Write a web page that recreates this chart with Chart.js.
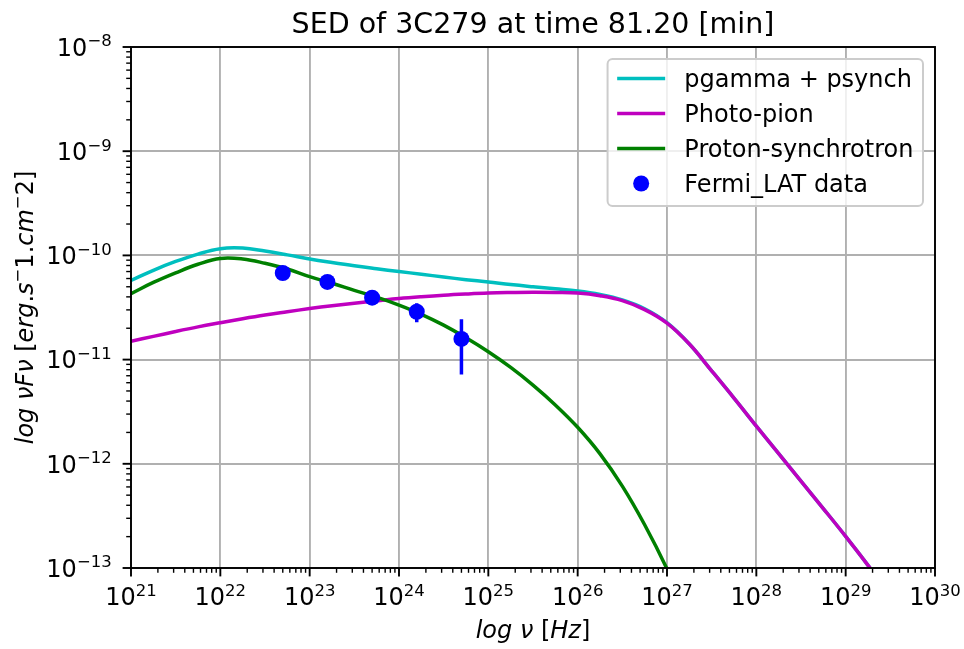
<!DOCTYPE html>
<html lang="en">
<head>
<meta charset="UTF-8">
<title>SED of 3C279</title>
<script src="https://cdn.jsdelivr.net/npm/chart.js"></script>
<style>
    * { margin: 0; padding: 0; box-sizing: border-box; }
    body { background: #fff; width: 964px; height: 649px; overflow: hidden; }
    canvas { display: block; }
</style>
</head>
<body>
<canvas id="sed" width="964" height="649"></canvas>
<script>
    // Model curves on a quarter-decade grid: frequency in Hz, nuFnu in erg/s/cm2
    const modelFreq = [
        1e21, 1.78e21, 3.16e21, 5.62e21, 1e22, 1.78e22, 3.16e22, 5.62e22,
        1e23, 1.78e23, 3.16e23, 5.62e23, 1e24, 1.78e24, 3.16e24, 5.62e24,
        1e25, 1.78e25, 3.16e25, 5.62e25, 1e26, 1.78e26, 3.16e26, 5.62e26,
        1e27, 1.78e27, 3.16e27, 5.62e27, 1e28, 1.78e28, 3.16e28, 5.62e28,
        1e29, 1.78e29, 3.16e29];
    const totalFlux = [
        5.75e-11, 7.2e-11, 8.75e-11, 1.03e-10, 1.16e-10, 1.175e-10, 1.10e-10, 1.012e-10,
        9.25e-11, 8.55e-11, 7.95e-11, 7.45e-11, 7.0e-11, 6.6e-11, 6.2e-11, 5.85e-11,
        5.56e-11, 5.25e-11, 5.0e-11, 4.78e-11, 4.56e-11, 4.22e-11, 3.74e-11, 3.08e-11,
        2.26e-11, 1.41e-11, 7.8e-12, 4.27e-12, 2.3e-12, 1.25e-12, 6.82e-13, 3.72e-13,
        2.01e-13, 1.06e-13, 5.3e-14];
    const pionFlux = [
        1.5e-11, 1.67e-11, 1.86e-11, 2.06e-11, 2.26e-11, 2.47e-11, 2.68e-11, 2.88e-11,
        3.09e-11, 3.29e-11, 3.48e-11, 3.66e-11, 3.85e-11, 4.01e-11, 4.15e-11, 4.26e-11,
        4.35e-11, 4.4e-11, 4.43e-11, 4.41e-11, 4.35e-11, 4.1e-11, 3.68e-11, 3.02e-11,
        2.24e-11, 1.41e-11, 7.8e-12, 4.27e-12, 2.3e-12, 1.25e-12, 6.82e-13, 3.72e-13,
        2.01e-13, 1.06e-13, 5.3e-14];
    const synchFlux = [
        4.3e-11, 5.5e-11, 6.8e-11, 8.22e-11, 9.35e-11, 9.23e-11, 8.4e-11, 7.41e-11,
        6.25e-11, 5.4e-11, 4.62e-11, 3.97e-11, 3.33e-11, 2.72e-11, 2.14e-11, 1.62e-11,
        1.19e-11, 8.41e-12, 5.69e-12, 3.67e-12, 2.24e-12, 1.245e-12, 6.1e-13, 2.6e-13,
        9.8e-14, 3.2e-14];

    // Fermi-LAT points
    const fermiFreq = [5.0e22, 1.58e23, 5.0e23, 1.58e24, 5.0e24];
    const fermiFlux = [6.78e-11, 5.56e-11, 3.93e-11, 2.88e-11, 1.58e-11];
    const fermiErr = [0.3e-11, 0.3e-11, 0.3e-11, 0.6e-11, 0.86e-11];

    const xDecades = [21, 22, 23, 24, 25, 26, 27, 28, 29, 30];
    const yDecades = [-13, -12, -11, -10, -9, -8];

    const seriesNames = ['pgamma + psynch', 'Photo-pion', 'Proton-synchrotron', 'Fermi_LAT data'];
    const seriesColors = ['#00bfbf', '#bf00bf', '#008000', '#0000ff'];

    const FONT = '"DejaVu Sans", sans-serif';
    const pts = (xs, ys) => ys.map((y, i) => ({ x: xs[i], y }));
    const pow10 = e => Number('1e' + e);

    // vertical error bars, broken apart with null gaps
    const errData = [];
    fermiFreq.forEach((f, i) => {
        errData.push({ x: f, y: fermiFlux[i] - fermiErr[i] }, { x: f, y: fermiFlux[i] + fermiErr[i] }, { x: f, y: null });
    });

    function curve(i, ys, order) {
        return {
            label: seriesNames[i], data: pts(modelFreq, ys), borderColor: seriesColors[i],
            borderWidth: 3.5, pointRadius: 0, fill: false, tension: 0.4, clip: 0, order
        };
    }

    // "10" with a raised exponent
    function drawPow(ctx, exp, x, y, align) {
        const sup = exp < 0 ? '\u2212' + Math.abs(exp) : String(exp);
        ctx.font = '24px ' + FONT;
        const bw = ctx.measureText('10').width;
        ctx.font = '16.5px ' + FONT;
        const sw = ctx.measureText(sup).width;
        const x0 = align === 'center' ? x - (bw + sw) / 2 : x - (bw + sw);
        ctx.font = '24px ' + FONT;
        ctx.fillText('10', x0, y);
        ctx.font = '16.5px ' + FONT;
        ctx.fillText(sup, x0 + bw, y - 9.5);
    }

    // mixed italic / upright / superscript runs, like mathtext
    function drawRuns(ctx, runs, cx, y) {
        const fontOf = k => k === 'it' ? 'italic 24px ' + FONT : k === 'sup' ? '16.5px ' + FONT : '24px ' + FONT;
        let w = 0;
        runs.forEach(([t, k]) => { ctx.font = fontOf(k); w += ctx.measureText(t).width; });
        let x = cx - w / 2;
        runs.forEach(([t, k]) => {
            ctx.font = fontOf(k);
            ctx.fillText(t, x, k === 'sup' ? y - 9.5 : y);
            x += ctx.measureText(t).width;
        });
    }

    const axesDecor = {
        id: 'axesDecor',
        afterDraw(chart) {
            const { ctx, chartArea: a, scales: { x: sx, y: sy } } = chart;
            ctx.save();
            ctx.fillStyle = '#000';
            ctx.strokeStyle = '#000';
            ctx.textAlign = 'left';
            ctx.textBaseline = 'alphabetic';

            // frame
            ctx.lineWidth = 1.9;
            ctx.strokeRect(a.left, a.top, a.right - a.left, a.bottom - a.top);

            // major and minor ticks
            const tick = (x1, y1, x2, y2, lw) => {
                ctx.lineWidth = lw;
                ctx.beginPath(); ctx.moveTo(x1, y1); ctx.lineTo(x2, y2); ctx.stroke();
            };
            sx.ticks.forEach(t => {
                const px = sx.getPixelForValue(t.value);
                tick(px, a.bottom, px, a.bottom + 8.4, 1.9);
                const e = Math.round(Math.log10(t.value));
                if (e < xDecades[xDecades.length - 1]) {
                    for (let k = 2; k < 10; k++) {
                        const mx = sx.getPixelForValue(k * t.value);
                        tick(mx, a.bottom, mx, a.bottom + 4.8, 1.4);
                    }
                }
                drawPow(ctx, e, px, a.bottom + 37, 'center');
            });
            sy.ticks.forEach(t => {
                const py = sy.getPixelForValue(t.value);
                tick(a.left, py, a.left - 8.4, py, 1.9);
                const e = Math.round(Math.log10(t.value));
                if (e < yDecades[yDecades.length - 1]) {
                    for (let k = 2; k < 10; k++) {
                        const my = sy.getPixelForValue(k * t.value);
                        tick(a.left, my, a.left - 4.8, my, 1.4);
                    }
                }
                drawPow(ctx, e, a.left - 19.3, py + 8.8, 'right');
            });

            // title and axis labels
            const cx = (a.left + a.right) / 2;
            ctx.font = '28.5px ' + FONT;
            ctx.textAlign = 'center';
            ctx.fillText('SED of 3C279 at time 81.20 [min]', cx, 32.5);
            ctx.textAlign = 'left';
            drawRuns(ctx, [['log', 'it'], [' ', 'it'], ['\u03bd', 'it'], [' ', 'it'], ['[', 'rm'], ['Hz', 'it'], [']', 'rm']], cx, 638);

            ctx.translate(32.5, (a.top + a.bottom) / 2);
            ctx.rotate(-Math.PI / 2);
            drawRuns(ctx, [['log', 'it'], [' ', 'it'], ['\u03bdF\u03bd', 'it'], [' ', 'it'], ['[', 'rm'], ['erg', 'it'], ['.', 'rm'],
                ['s', 'it'], ['\u2212', 'sup'], ['1', 'rm'], ['.', 'rm'], ['cm', 'it'], ['\u2212', 'sup'], ['2', 'rm'], [']', 'rm']], 0, 0);
            ctx.restore();
        }
    };

    const legendBox = {
        id: 'legendBox',
        afterDraw(chart) {
            const { ctx, chartArea: a } = chart;
            const items = chart.data.datasets.filter(d => d.label);
            const fs = 24, pad = 0.4 * fs, handle = 2 * fs, gap = 0.8 * fs, row = 35;
            ctx.save();
            ctx.font = fs + 'px ' + FONT;
            const textW = Math.max(...items.map(d => ctx.measureText(d.label).width));
            const w = pad + handle + gap + textW + pad;
            const h = 147;
            const right = a.right - 12, top = a.top + 12, left = right - w;

            ctx.beginPath();
            ctx.roundRect(left, top, w, h, 5);
            ctx.fillStyle = 'rgba(255,255,255,0.8)';
            ctx.fill();
            ctx.strokeStyle = '#cccccc';
            ctx.lineWidth = 2;
            ctx.stroke();

            items.forEach((d, i) => {
                const cy = top + 19.5 + i * row;
                if (d.showLine === false) {
                    ctx.fillStyle = d.pointBackgroundColor;
                    ctx.beginPath();
                    ctx.arc(left + pad + handle / 2, cy, 8, 0, Math.PI * 2);
                    ctx.fill();
                } else {
                    ctx.strokeStyle = d.borderColor;
                    ctx.lineWidth = 3.5;
                    ctx.beginPath();
                    ctx.moveTo(left + pad, cy);
                    ctx.lineTo(left + pad + handle, cy);
                    ctx.stroke();
                }
                ctx.fillStyle = '#000';
                ctx.font = fs + 'px ' + FONT;
                ctx.textBaseline = 'alphabetic';
                ctx.fillText(d.label, left + pad + handle + gap, cy + 8.7);
            });
            ctx.restore();
        }
    };

    const ctx = document.getElementById('sed').getContext('2d');
    const sedChart = new Chart(ctx, {
        type: 'line',
        data: {
            datasets: [
                curve(0, totalFlux, 4),
                curve(1, pionFlux, 3),
                curve(2, synchFlux, 2),
                {
                    label: seriesNames[3], data: pts(fermiFreq, fermiFlux), showLine: false,
                    pointRadius: 8, pointBackgroundColor: seriesColors[3], pointBorderWidth: 0, order: 0
                },
                {
                    data: errData, borderColor: seriesColors[3], borderWidth: 3.5, pointRadius: 0,
                    spanGaps: false, tension: 0, clip: 0, order: 1
                }
            ]
        },
        options: {
            responsive: false,
            animation: false,
            events: [],
            layout: { padding: { left: 0, right: 29, top: 47, bottom: 0 } },
            scales: {
                x: {
                    type: 'logarithmic', min: 1e21, max: 1e30,
                    afterBuildTicks: s => { s.ticks = xDecades.map(e => ({ value: pow10(e), major: true })); },
                    afterFit: s => { s.height = 81; },
                    ticks: { display: false },
                    grid: { color: '#b0b0b0', lineWidth: 1.9, drawTicks: false },
                    border: { display: false }
                },
                y: {
                    type: 'logarithmic', min: 1e-13, max: 1e-8,
                    afterBuildTicks: s => { s.ticks = yDecades.map(e => ({ value: pow10(e), major: true })); },
                    afterFit: s => { s.width = 131; },
                    ticks: { display: false },
                    grid: { color: '#b0b0b0', lineWidth: 1.9, drawTicks: false },
                    border: { display: false }
                }
            },
            plugins: {
                legend: { display: false },
                tooltip: { enabled: false }
            }
        },
        plugins: [axesDecor, legendBox]
    });
</script>
</body>
</html>
